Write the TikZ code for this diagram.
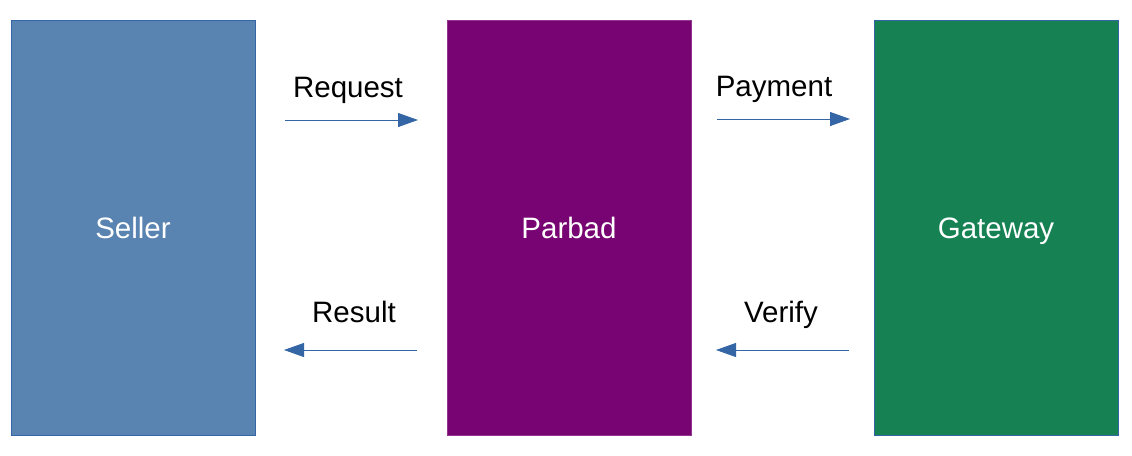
\documentclass[tikz,border=0pt]{standalone}
\usepackage{fontspec}
\setmainfont{Liberation Sans}
\usetikzlibrary{arrows.meta}
\definecolor{sellerc}{HTML}{5983B0}
\definecolor{parbadc}{HTML}{780373}
\definecolor{gatewayc}{HTML}{168253}
\definecolor{linec}{HTML}{3465A4}
\begin{document}
\begin{tikzpicture}[x=1pt,y=-1pt,
  box/.style={draw=linec, line width=0.8pt, minimum width=244pt, minimum height=415pt, inner sep=0pt},
  boxtext/.style={anchor=base, inner sep=0pt, text=white, font=\fontsize{29.5}{32}\selectfont},
  lbl/.style={anchor=base, inner sep=0pt, text=black, font=\fontsize{29.5}{32}\selectfont},
  flow/.style={draw=linec, line width=0.9pt, -{Triangle[length=20pt,width=14pt]}}]
\useasboundingbox (0,0) rectangle (1132,455);
\node[box, fill=sellerc] (seller) at (133,227.5) {};
\node[box, fill=parbadc, draw=parbadc!80!white] (parbad) at (569,227.5) {};
\node[box, fill=gatewayc] (gateway) at (996.5,227.5) {};
\node[boxtext] (sellert) at (133,238) {Seller};
\node[boxtext] (parbadt) at (569,238) {Parbad};
\node[boxtext] (gatewayt) at (996,238) {Gateway};
\coordinate (a1) at (285,120);
\coordinate (a2) at (418,120);
\coordinate (b1) at (717,119);
\coordinate (b2) at (850,119);
\coordinate (c1) at (417,350);
\coordinate (c2) at (284,350);
\coordinate (d1) at (849,350);
\coordinate (d2) at (716,350);
\draw[flow] (a1) -- (a2);
\draw[flow] (b1) -- (b2);
\draw[flow] (c1) -- (c2);
\draw[flow] (d1) -- (d2);
\node[lbl] (req) at (348,97) {Request};
\node[lbl] (pay) at (774,96) {Payment};
\node[lbl] (res) at (354,322) {Result};
\node[lbl] (ver) at (781,322) {Verify};
\end{tikzpicture}
\end{document}
